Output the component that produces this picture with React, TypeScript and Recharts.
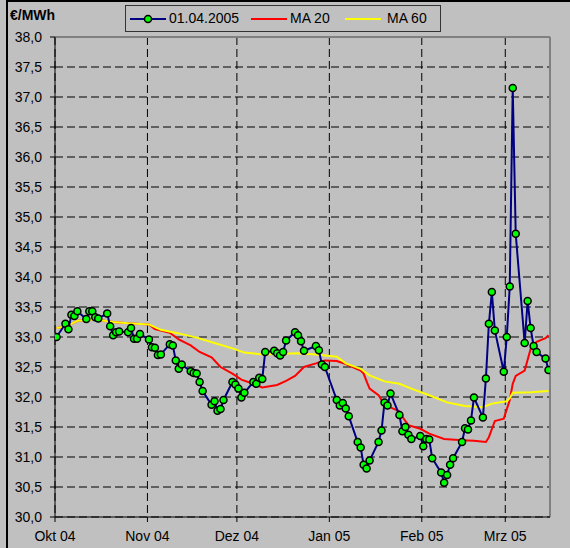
import React from "react";
import { LineChart, Line, XAxis, YAxis, CartesianGrid, ReferenceLine } from "recharts";

const FONT = "'Liberation Sans', Arial, sans-serif";

const monthTicks = [0, 31, 61, 92, 123, 151];
const monthLabels = ["Okt 04", "Nov 04", "Dez 04", "Jan 05", "Feb 05", "Mrz 05"];
const yTicks = [30, 30.5, 31, 31.5, 32, 32.5, 33, 33.5, 34, 34.5, 35, 35.5, 36, 36.5, 37, 37.5, 38];

const priceDates = [
  "2004-10-01", "2004-10-04", "2004-10-05", "2004-10-06", "2004-10-07", "2004-10-08",
  "2004-10-11", "2004-10-12", "2004-10-13", "2004-10-14", "2004-10-15",
  "2004-10-18", "2004-10-19", "2004-10-20", "2004-10-21", "2004-10-22",
  "2004-10-25", "2004-10-26", "2004-10-27", "2004-10-28", "2004-10-29",
  "2004-11-01", "2004-11-02", "2004-11-03", "2004-11-04", "2004-11-05",
  "2004-11-08", "2004-11-09", "2004-11-10", "2004-11-11", "2004-11-12",
  "2004-11-15", "2004-11-16", "2004-11-17", "2004-11-18", "2004-11-19",
  "2004-11-22", "2004-11-23", "2004-11-24", "2004-11-25", "2004-11-26",
  "2004-11-29", "2004-11-30", "2004-12-01", "2004-12-02", "2004-12-03",
  "2004-12-06", "2004-12-07", "2004-12-08", "2004-12-09", "2004-12-10",
  "2004-12-13", "2004-12-14", "2004-12-15", "2004-12-16", "2004-12-17",
  "2004-12-20", "2004-12-21", "2004-12-22", "2004-12-23",
  "2004-12-27", "2004-12-28", "2004-12-29", "2004-12-30",
  "2005-01-03", "2005-01-04", "2005-01-05", "2005-01-06", "2005-01-07",
  "2005-01-10", "2005-01-11", "2005-01-12", "2005-01-13", "2005-01-14",
  "2005-01-17", "2005-01-18", "2005-01-19", "2005-01-20", "2005-01-21",
  "2005-01-24", "2005-01-25", "2005-01-26", "2005-01-27", "2005-01-28",
  "2005-01-31", "2005-02-01", "2005-02-02", "2005-02-03", "2005-02-04",
  "2005-02-07", "2005-02-08", "2005-02-09", "2005-02-10", "2005-02-11",
  "2005-02-14", "2005-02-15", "2005-02-16", "2005-02-17", "2005-02-18",
  "2005-02-21", "2005-02-22", "2005-02-23", "2005-02-24", "2005-02-25",
  "2005-02-28", "2005-03-01", "2005-03-02", "2005-03-03", "2005-03-04",
  "2005-03-07", "2005-03-08", "2005-03-09", "2005-03-10", "2005-03-11",
  "2005-03-14", "2005-03-15",
];
const priceValues = [
  33.0, 33.22, 33.13, 33.37, 33.35, 33.43,
  33.3, 33.43, 33.43, 33.33, 33.31,
  33.39, 33.18, 33.03, 33.08, 33.09,
  33.08, 33.15, 32.97, 32.97, 33.05,
  32.96, 32.83, 32.82, 32.7, 32.71,
  32.88, 32.86, 32.61, 32.47, 32.54,
  32.43, 32.4, 32.39, 32.25, 32.1,
  31.87, 31.93, 31.77, 31.8, 31.95,
  32.25, 32.21, 32.14, 31.99, 32.07,
  32.25, 32.22, 32.32, 32.3, 32.75,
  32.77, 32.73, 32.69, 32.75, 32.94,
  33.08, 33.03, 32.93, 32.77,
  32.85, 32.78, 32.54, 32.5,
  31.95, 31.86, 31.9, 31.81, 31.68,
  31.25, 31.16, 30.87, 30.81, 30.94,
  31.25, 31.44, 31.91, 31.86, 32.06,
  31.7, 31.43, 31.5, 31.37, 31.3,
  31.35, 31.18, 31.3, 31.29, 30.98,
  30.74, 30.57, 30.7, 30.87, 30.98,
  31.25, 31.48, 31.46, 31.61, 31.99,
  31.66, 32.31, 33.22, 33.75, 33.11,
  32.42, 33.0, 33.84, 37.15, 34.72,
  32.9, 33.6, 33.15, 32.85, 32.75,
  32.64, 32.45,
];

const ma20Dates = [
  "2004-10-01", "2004-10-04", "2004-10-08", "2004-10-14", "2004-10-20", "2004-10-25",
  "2004-11-01", "2004-11-03", "2004-11-08", "2004-11-11", "2004-11-15", "2004-11-18",
  "2004-11-22", "2004-11-25", "2004-11-29", "2004-12-02", "2004-12-06", "2004-12-09",
  "2004-12-14", "2004-12-17", "2004-12-20", "2004-12-23", "2004-12-27", "2004-12-30",
  "2005-01-03", "2005-01-06", "2005-01-11", "2005-01-12", "2005-01-13", "2005-01-14",
  "2005-01-17", "2005-01-19", "2005-01-24", "2005-01-25", "2005-01-27", "2005-01-31",
  "2005-02-03", "2005-02-08", "2005-02-14", "2005-02-18", "2005-02-22", "2005-02-23",
  "2005-02-25", "2005-02-28", "2005-03-02", "2005-03-03", "2005-03-04", "2005-03-07",
  "2005-03-09", "2005-03-11", "2005-03-14", "2005-03-15",
];
const ma20Values = [
  33.15, 33.17, 33.27, 33.29, 33.25, 33.23,
  33.21, 33.13, 33.07, 32.96, 32.86, 32.75,
  32.66, 32.5, 32.39, 32.29, 32.22, 32.16,
  32.2, 32.27, 32.35, 32.5, 32.56, 32.61,
  32.6, 32.55, 32.44, 32.39, 32.26, 32.14,
  32.03, 31.87, 31.76, 31.67, 31.53, 31.47,
  31.39, 31.3, 31.28, 31.27, 31.25, 31.33,
  31.6, 31.64, 31.95, 32.22, 32.35, 32.44,
  32.8, 32.92, 32.98, 33.03,
];

const ma60Dates = [
  "2004-10-01", "2004-10-04", "2004-10-08", "2004-10-14", "2004-10-20", "2004-10-25",
  "2004-11-01", "2004-11-05", "2004-11-11", "2004-11-17", "2004-11-23", "2004-11-29",
  "2004-12-03", "2004-12-09", "2004-12-16", "2004-12-21", "2004-12-27",
  "2005-01-03", "2005-01-06", "2005-01-11", "2005-01-14", "2005-01-19", "2005-01-24",
  "2005-01-28", "2005-02-03", "2005-02-09", "2005-02-15", "2005-02-21", "2005-02-24",
  "2005-03-01", "2005-03-02", "2005-03-03", "2005-03-09", "2005-03-15",
];
const ma60Values = [
  33.15, 33.17, 33.27, 33.29, 33.25, 33.23,
  33.21, 33.12, 33.06, 32.99, 32.9, 32.81,
  32.74, 32.71, 32.72, 32.73, 32.71,
  32.67, 32.56, 32.47, 32.36, 32.26, 32.22,
  32.14, 32.03, 31.91, 31.85, 31.83, 31.89,
  31.93, 31.98, 32.07, 32.08, 32.1,
];

// days since 01.10.2004, points sit in the middle of their day
const START = Date.UTC(2004, 9, 1);
const dayPos = (iso: string) => {
  const [y, m, d] = iso.split("-").map(Number);
  return (Date.UTC(y, m - 1, d) - START) / 86400000 + 0.5;
};
const toRows = (dates: string[], values: number[]) =>
  dates.map((d, i) => ({ x: dayPos(d), v: values[i] }));

const priceRows = toRows(priceDates, priceValues);
const ma20Rows = toRows(ma20Dates, ma20Values);
const ma60Rows = toRows(ma60Dates, ma60Values);

const tickStyle = { fill: "#000", fontSize: 14, fontFamily: FONT };

function LegendBox() {
  const sample = (left: number, color: string, dot?: boolean) => (
    <svg style={{ position: "absolute", left, top: 8 }} width={36} height={10}>
      <line x1={0} y1={5} x2={36} y2={5} stroke={color} strokeWidth={2} />
      {dot && <circle cx={18} cy={5} r={3.5} fill="#00ff00" stroke="#000" strokeWidth={1.5} />}
    </svg>
  );
  const label = (left: number, text: string) => (
    <span style={{ position: "absolute", left, top: 4, fontSize: 14, fontFamily: FONT, color: "#000", whiteSpace: "nowrap" }}>
      {text}
    </span>
  );
  return (
    <div style={{ position: "absolute", left: 125, top: 5, width: 314, height: 25, border: "1px solid #333" }}>
      {sample(4, "#000080", true)}
      {label(43, "01.04.2005")}
      {sample(125, "#ff0000")}
      {label(164, "MA 20")}
      {sample(219, "#ffff00")}
      {label(261, "MA 60")}
    </div>
  );
}

export default function App() {
  return (
    <div style={{ position: "absolute", left: 0, top: 0, width: 570, height: 548, background: "#c0c0c0", overflow: "hidden" }}>
      <div style={{ position: "absolute", left: 6, top: 0, width: 2, height: 548, background: "#000" }} />
      <div style={{ position: "absolute", left: 6, top: 0, width: 564, height: 2, background: "#000" }} />
      <div style={{ position: "absolute", left: 10, top: 7, fontSize: 14, fontWeight: "bold", fontFamily: FONT, color: "#000" }}>
        €/MWh
      </div>
      <LegendBox />
      <LineChart width={570} height={548} margin={{ top: 37, right: 20, bottom: 0, left: 0 }}>
        <CartesianGrid stroke="#000" strokeDasharray="8 4" />
        <XAxis
          type="number"
          dataKey="x"
          domain={[0, 166]}
          ticks={monthTicks}
          interval={0}
          allowDataOverflow
          height={31}
          tickSize={5}
          tickMargin={9}
          tick={tickStyle}
          axisLine={{ stroke: "#000" }}
          tickLine={{ stroke: "#000" }}
          tickFormatter={(v: number) => monthLabels[monthTicks.indexOf(v)]}
        />
        <YAxis
          type="number"
          domain={[30, 38]}
          ticks={yTicks}
          interval={0}
          allowDataOverflow
          width={55}
          tickSize={5}
          tickMargin={8}
          tick={tickStyle}
          axisLine={{ stroke: "#000" }}
          tickLine={{ stroke: "#000" }}
          tickFormatter={(v: number) => v.toFixed(1).replace(".", ",")}
        />
        <ReferenceLine y={38} stroke="#808080" strokeWidth={2} />
        <ReferenceLine x={166} stroke="#808080" strokeWidth={2} />
        <Line data={ma20Rows} dataKey="v" type="linear" stroke="#ff0000" strokeWidth={2} dot={false} isAnimationActive={false} />
        <Line data={ma60Rows} dataKey="v" type="linear" stroke="#ffff00" strokeWidth={2} dot={false} isAnimationActive={false} />
        <Line
          data={priceRows}
          dataKey="v"
          type="linear"
          stroke="#000080"
          strokeWidth={2}
          dot={{ r: 3.5, fill: "#00ff00", stroke: "#000", strokeWidth: 1.5 }}
          isAnimationActive={false}
        />
      </LineChart>
    </div>
  );
}
